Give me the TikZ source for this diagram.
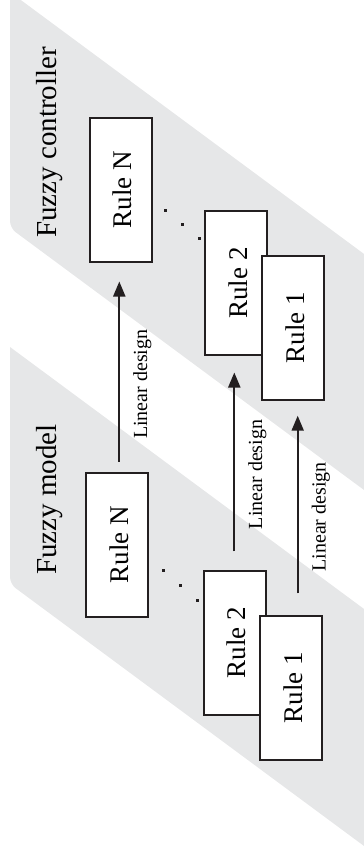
\documentclass[tikz,border=0pt]{standalone}
\usepackage{fontspec}
\setmainfont{Liberation Serif}
\usetikzlibrary{arrows.meta,calc}
\definecolor{bandgray}{RGB}{230,231,232}
\definecolor{inkline}{RGB}{35,31,32}
\begin{document}
\begin{tikzpicture}[x=1pt,y=-1pt,
  rulebox/.style={draw=inkline, line width=2pt, fill=white, rotate=90,
    minimum width=144pt, minimum height=62pt, inner sep=0pt,
    font=\fontsize{27}{30}\selectfont, text height=22pt, text depth=0pt},
  title/.style={rotate=90, anchor=north west, inner sep=0pt,
    font=\fontsize{29}{32}\selectfont},
  arr/.style={draw=inkline, line width=2pt, -{Triangle[length=15pt,width=12pt]}},
  lbl/.style={rotate=90, anchor=north, inner xsep=0pt, inner ysep=13pt,
    font=\fontsize{20}{22}\selectfont, pos=0.43},
  dot/.style={fill=inkline}]
  \useasboundingbox (0,0) rectangle (364,852);

  % grey slanted bands behind the two rule banks
  \begin{scope}
    \clip (0,0) rectangle (364,852);
    \fill[bandgray] (10,-8) -- (400,280.6) -- (400,516.6)
      [rounded corners=7pt] -- (10,228) [sharp corners] -- cycle;
    \fill[bandgray] (10,347) -- (400,635.6) -- (400,872.6)
      [rounded corners=7pt] -- (10,584) [sharp corners] -- cycle;
  \end{scope}

  % titles
  \node[title] (tc) at (36,238) {Fuzzy controller};
  \node[title] (tm) at (36,575) {Fuzzy model};

  % fuzzy controller rules
  \node[rulebox] (cN) at (120.8,189.5) {Rule N};
  \node[rulebox] (c2) at (236,283) {Rule 2};
  \node[rulebox] (c1) at (293,327.7) {Rule 1};

  % fuzzy model rules
  \node[rulebox] (mN) at (117,544.6) {Rule N};
  \node[rulebox] (m2) at (234.5,642.8) {Rule 2};
  \node[rulebox] (m1) at (291,687.8) {Rule 1};

  % ellipsis dots between Rule N and Rule 2
  \foreach \px/\py in {165.7/210,182.3/224,199.3/238.3,163.3/570.7,180/585,197.3/600}
    \fill[dot] (\px-1.5,\py-1.5) rectangle (\px+1.5,\py+1.5);

  % linear design arrows from model rules to controller rules
  \draw[arr] ($(mN.east)+(2.3,-10)$) -- ($(cN.west)+(-1.5,19)$)
    node[lbl] (lN) {Linear design};
  \draw[arr] ($(m2.east)+(-0.2,-18.5)$) -- ($(c2.west)+(-1.7,16.5)$)
    node[lbl] (l2) {Linear design};
  \draw[arr] ($(m1.east)+(6.7,-21.5)$) -- ($(c1.west)+(4.7,15)$)
    node[lbl] (l1) {Linear design};
\end{tikzpicture}
\end{document}
